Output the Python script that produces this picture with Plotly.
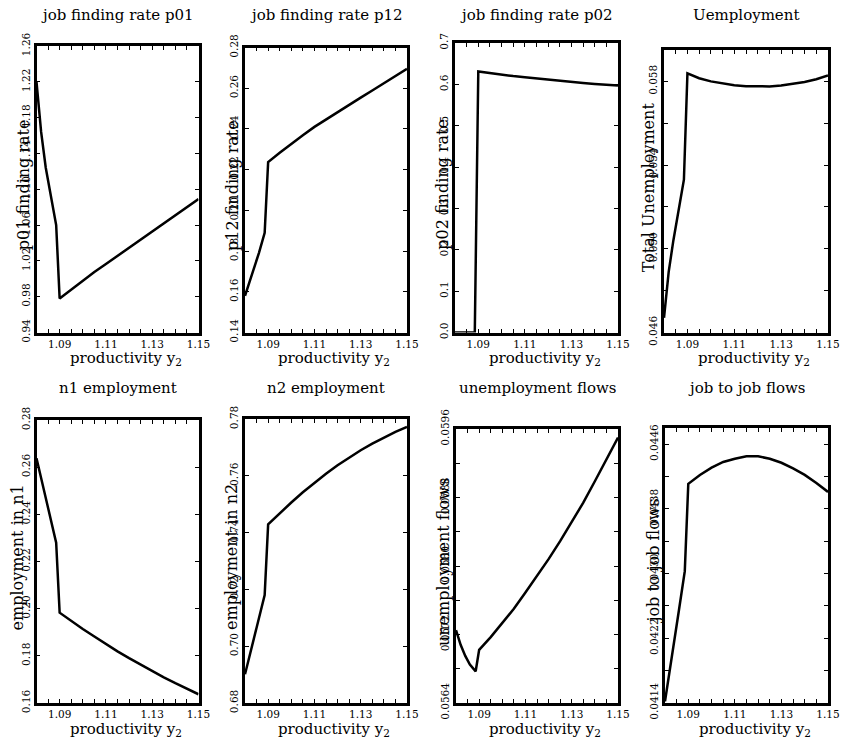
import plotly.graph_objects as go

# ---------------- data ----------------
productivity = [1.080, 1.082, 1.084, 1.086, 1.0885, 1.090, 1.095, 1.100, 1.105, 1.110,
                1.115, 1.120, 1.125, 1.130, 1.135, 1.140, 1.145, 1.150]

p01_rate = [1.220, 1.164, 1.124, 1.095, 1.060, 0.978, 0.988, 0.998, 1.0075, 1.0165,
            1.0255, 1.0345, 1.0435, 1.0525, 1.0615, 1.0707, 1.0799, 1.089]
p12_rate = [0.158, 0.165, 0.172, 0.179, 0.189, 0.2237, 0.2283, 0.2327, 0.2369, 0.2410,
            0.2447, 0.2483, 0.2519, 0.2554, 0.2589, 0.2624, 0.2660, 0.2695]
p02_rate = [0.0, 0.0, 0.0, 0.0, 0.0, 0.631, 0.627, 0.623, 0.620, 0.617,
            0.614, 0.611, 0.6085, 0.606, 0.6035, 0.601, 0.599, 0.597]
total_unemp = [0.0467, 0.0489, 0.0504, 0.0517, 0.0533, 0.05838, 0.05815, 0.05800, 0.05790, 0.05782,
               0.05777, 0.05775, 0.05776, 0.05780, 0.05787, 0.05797, 0.05810, 0.05828]
emp_n1 = [0.2638, 0.2554, 0.2470, 0.2385, 0.2280, 0.1983, 0.1948, 0.1914, 0.1882, 0.1850,
          0.1819, 0.1790, 0.1762, 0.1735, 0.1709, 0.1684, 0.1660, 0.1637]
emp_n2 = [0.6901, 0.6965, 0.7029, 0.7093, 0.7180, 0.7429, 0.7469, 0.7506, 0.7542, 0.7576,
          0.7607, 0.7637, 0.7664, 0.7690, 0.7713, 0.7735, 0.7755, 0.7772]
unemp_flows = [0.05725, 0.05708, 0.05695, 0.05685, 0.05677, 0.05702, 0.05717, 0.05733, 0.05750, 0.05769,
               0.05788, 0.05808, 0.05829, 0.05851, 0.05874, 0.05899, 0.05924, 0.05950]
jj_flows = [0.04142, 0.04178, 0.04217, 0.04255, 0.04303, 0.04411, 0.04422, 0.04431, 0.04438, 0.04442,
            0.04445, 0.04445, 0.04442, 0.04437, 0.04430, 0.04422, 0.04412, 0.04401]

panel_titles = ["job finding rate p01", "job finding rate p12", "job finding rate p02", "Uemployment",
                "n1 employment", "n2 employment", "unemployment flows", "job to job flows"]
y_titles = ["p01 finding rate", "p12 finding rate", "p02 finding rate", "Total Unemployment",
            "employment in n1", "employment in n2", "unemployment flows", "job to job flows"]
x_title = "productivity y<sub>2</sub>"

x_tick_labels = ["1.09", "1.11", "1.13", "1.15"]
y_tick_labels = [
    ["0.94", "0.98", "1.02", "1.06", "1.10", "1.14", "1.18", "1.22", "1.26"],
    ["0.14", "0.16", "0.18", "0.20", "0.22", "0.24", "0.26", "0.28"],
    ["0.0", "0.1", "0.2", "0.3", "0.4", "0.5", "0.6", "0.7"],
    ["0.046", "0.050", "0.054", "0.058"],
    ["0.16", "0.18", "0.20", "0.22", "0.24", "0.26", "0.28"],
    ["0.68", "0.70", "0.72", "0.74", "0.76", "0.78"],
    ["0.0564", "0.0572", "0.0580", "0.0588", "0.0596"],
    ["0.0414", "0.0422", "0.0430", "0.0438", "0.0446"],
]
y_ranges = [[0.94, 1.26], [0.14, 0.28], [0.0, 0.7], [0.046, 0.0595],
            [0.16, 0.28], [0.68, 0.78], [0.0564, 0.0596], [0.0414, 0.0448]]
x_range = [1.08, 1.15]

series = [p01_rate, p12_rate, p02_rate, total_unemp, emp_n1, emp_n2, unemp_flows, jj_flows]

# ---------------- layout (pixels) ----------------
W, H = 844, 742
boxes = [  # left, top, right, bottom
    (36.5, 46, 198.5, 332.5), (245, 47.5, 407, 332.5), (455, 43, 618, 332.5), (664, 50, 828, 332.5),
    (36.5, 420, 198.5, 703), (245, 419, 407, 703), (456, 429, 618, 703), (665, 428, 828, 703),
]
ytitle_x = [23, 232, 443, 648, 17, 231, 443, 653]
minor_step = [None, None, None, 0.002, None, None, 0.0004, 0.0004]
x_minor_step = 0.005

FONT = "DejaVu Serif"


def frange(a, b, step):
    out = []
    k = 0
    while a + k * step <= b + 1e-12:
        out.append(round(a + k * step, 6))
        k += 1
    return out


x_major = [float(s) for s in x_tick_labels]
x_minor = [v for v in frange(x_range[0], x_range[1], x_minor_step)
           if all(abs(v - m) > 1e-9 for m in x_major)]

fig = go.Figure()
annotations = []
for i in range(8):
    L, T, R, B = boxes[i]
    n = "" if i == 0 else str(i + 1)
    fig.add_trace(go.Scatter(x=productivity, y=series[i], mode="lines",
                             line=dict(color="black", width=2.5),
                             xaxis="x" + n, yaxis="y" + n, showlegend=False,
                             hoverinfo="skip"))
    y_major = [float(s) for s in y_tick_labels[i]]
    if minor_step[i]:
        y_minor = [v for v in frange(y_ranges[i][0], y_ranges[i][1], minor_step[i])
                   if all(abs(v - m) > 1e-9 for m in y_major)]
    else:
        y_minor = []
    axis_common = dict(showgrid=False, zeroline=False, showline=True, linecolor="black",
                       linewidth=2.5, mirror="ticks", ticks="inside", ticklen=4,
                       tickwidth=1, tickcolor="black", automargin=False,
                       tickfont=dict(family=FONT, size=10.5, color="black"))
    fig.update_layout(**{
        "xaxis" + n: dict(domain=[L / W, R / W], range=x_range, anchor="y" + n,
                          tickmode="array", tickvals=x_major, ticktext=x_tick_labels,
                          minor=dict(tickmode="array", tickvals=x_minor, ticks="inside",
                                     ticklen=4, tickwidth=1, tickcolor="black", showgrid=False),
                          **axis_common),
        "yaxis" + n: dict(domain=[1 - B / H, 1 - T / H], range=y_ranges[i], anchor="x" + n,
                          tickmode="array", tickvals=y_major, ticktext=y_tick_labels[i],
                          tickangle=-90,
                          minor=dict(tickmode="array", tickvals=y_minor, ticks="inside",
                                     ticklen=4, tickwidth=1, tickcolor="black", showgrid=False),
                          **axis_common),
    })
    cx = (L + R) / 2
    row_title_y = 15 if i < 4 else 388
    row_xlab_y = 358 if i < 4 else 729
    annotations.append(dict(text=panel_titles[i], x=cx / W, y=1 - row_title_y / H,
                            xref="paper", yref="paper", xanchor="center", yanchor="middle",
                            showarrow=False, font=dict(family=FONT, size=15, color="black")))
    annotations.append(dict(text=x_title, x=(cx + 8) / W, y=1 - row_xlab_y / H,
                            xref="paper", yref="paper", xanchor="center", yanchor="middle",
                            showarrow=False, font=dict(family=FONT, size=15, color="black")))
    annotations.append(dict(text=y_titles[i], x=ytitle_x[i] / W, y=1 - ((T + B) / 2 - 4) / H,
                            xref="paper", yref="paper", xanchor="center", yanchor="middle",
                            textangle=-90, showarrow=False,
                            font=dict(family=FONT, size=16, color="black")))

fig.update_layout(width=W, height=H, autosize=False,
                  margin=dict(l=0, r=0, t=0, b=0, pad=0),
                  paper_bgcolor="white", plot_bgcolor="white",
                  annotations=annotations)

fig.write_html("out.html", config={"displayModeBar": False},
               post_script="document.body.style.margin='0';")
